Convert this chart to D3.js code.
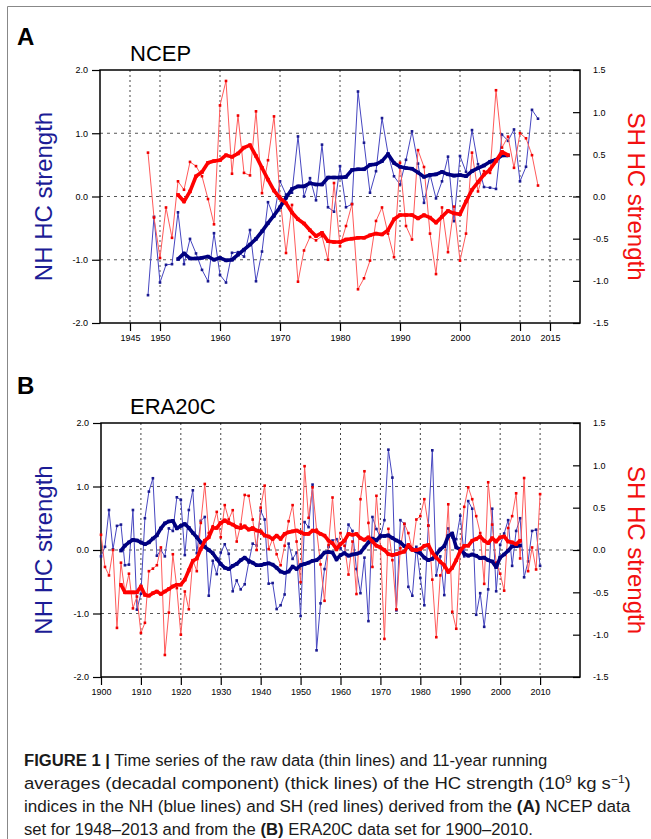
<!DOCTYPE html>
<html>
<head>
<meta charset="utf-8">
<script src="https://cdn.jsdelivr.net/npm/d3@7"></script>
<style>
  body { margin: 0; background: #fff; }
  svg { display: block; }
  text { font-family: "Liberation Sans", Arial, sans-serif; }
</style>
</head>
<body>
<div id="chart"></div>
<script>
// ---- data ----
// NCEP, 1948-2013 raw, 1953-2008 11-yr running mean
const ncepStart = 1948;
const ncepNH = [-1.56, -0.32, -1.36, -1.08, -1.07, -0.25, -1.07, -0.67, -0.9, -1.16,
  -1.34, -0.58, -1.24, -1.36, -0.89, -0.88, -0.95, -0.53, -1.34, -0.87,
  -0.09, -0.32, 0.24, 0.03, 0.06, 0.95, 0.0, 0.29, -0.06, 0.82,
  -0.17, -0.24, 0.48, -0.17, -0.12, 1.66, 0.85, 0.06, 0.4, 1.24,
  0.68, 0.32, 0.19, 0.58, 1.03, 0.52, -0.1, 0.35, -0.03, 0.24,
  0.63, -0.39, 0.64, 0.39, 1.05, 0.51, 0.15, 0.14, 0.12, 0.98,
  0.88, 1.06, 0.24, 0.47, 1.37, 1.23];
const ncepSH = [0.52, -0.25, -0.73, -0.13, -0.49, 0.18, 0.08, 0.41, 0.36, 0.24,
  -0.03, -0.33, 1.08, 1.37, 0.27, 0.96, 0.28, 0.25, 1.01, 0.04,
  0.43, 0.95, 0.0, -0.67, -0.1, -1.01, -0.64, -0.48, -0.52, -0.47,
  -0.75, 0.16, -0.59, -0.35, -0.09, -1.1, -0.97, -0.76, -0.29, -0.13,
  -0.44, -0.72, 0.4, -0.35, -0.51, 0.55, 0.35, -0.44, -0.92, -0.13,
  -0.66, -0.12, -0.76, -0.44, 0.52, 0.06, 0.3, 0.28, 1.26, 0.58,
  0.71, 0.34, 0.75, 0.69, 0.49, 0.13];
const ncepSmoothStart = 1953;
const ncepNHSmooth = [-0.99, -0.9, -0.98, -0.98, -0.97, -0.95, -1.0, -0.97, -1.01, -1.0,
  -0.92, -0.84, -0.76, -0.67, -0.55, -0.42, -0.3, -0.17, -0.02, 0.12,
  0.16, 0.16, 0.21, 0.19, 0.19, 0.3, 0.3, 0.3, 0.31, 0.42,
  0.43, 0.43, 0.5, 0.51, 0.56, 0.67, 0.53, 0.47, 0.45, 0.44,
  0.38, 0.31, 0.34, 0.35, 0.39, 0.35, 0.33, 0.34, 0.32, 0.4,
  0.45, 0.49, 0.55, 0.58, 0.65, 0.65];
const ncepSHSmooth = [0.02, -0.06, 0.06, 0.24, 0.29, 0.4, 0.42, 0.43, 0.49, 0.47,
  0.51, 0.58, 0.61, 0.48, 0.34, 0.2, 0.07, -0.02, -0.08, -0.19,
  -0.27, -0.32, -0.4, -0.47, -0.43, -0.53, -0.54, -0.54, -0.51, -0.5,
  -0.49, -0.49, -0.46, -0.44, -0.45, -0.4, -0.27, -0.22, -0.22, -0.22,
  -0.26, -0.22, -0.25, -0.31, -0.24, -0.17, -0.2, -0.21, -0.06, 0.08,
  0.17, 0.26, 0.32, 0.42, 0.53, 0.49];

// ERA20C, 1900-2010 raw, 1905-2005 11-yr running mean
const eraStart = 1900;
const eraNH = [-0.1, 0.05, 0.63, 0.01, 0.38, 0.4, -0.24, -0.23, 0.63, -0.94,
  -0.69, 0.5, 0.92, 1.13, -0.09, 0.0, -0.1, 0.34, 0.3, 0.83,
  0.79, -0.08, 0.63, 0.94, -0.05, 0.46, 0.52, -0.72, -0.17, -0.38,
  -0.04, 0.09, -0.06, -0.65, -0.48, -0.62, -0.54, -0.2, 0.1, 0.07,
  0.62, 0.48, -0.53, -0.52, -0.93, -0.87, -0.7, 0.1, -0.14, -0.04,
  -1.04, 0.44, 0.36, 1.03, -1.58, -0.84, -0.3, 0.05, 0.15, 0.17,
  0.03, -0.06, 0.4, 0.3, -0.3, -0.68, -0.12, -1.12, 0.52, 0.33,
  0.2, 0.47, 1.58, 1.14, -0.95, 0.47, 0.41, -0.58, -0.72, 0.05,
  -0.44, -0.87, 0.38, 1.57, -0.4, -0.1, -0.71, 0.34, 0.2, 0.17,
  0.54, -0.1, 0.77, 0.65, -1.02, -0.68, -1.21, -0.62, 0.65, -0.65,
  0.08, 0.26, 0.47, -0.25, 0.3, 0.5, -0.43, -0.18, 0.3, 0.32,
  -0.25];
const eraSH = [0.18, -0.2, -0.3, 0.0, -0.92, -0.15, -0.5, -0.28, -0.69, -0.55,
  -0.98, -0.86, -0.25, -0.22, -0.18, 0.03, -1.24, -0.74, -0.05, -0.45,
  -1.0, -0.49, -0.7, -0.12, -0.25, 0.32, 0.78, 0.2, 0.28, 0.45,
  0.15, 0.53, 0.36, 0.47, 0.1, 0.3, 0.65, 0.64, 0.36, 0.0,
  0.5, 0.76, 0.01, 0.13, -0.05, -0.18, 0.05, 0.34, 0.53, 0.1,
  -0.38, 0.99, 0.38, 0.74, 0.24, -0.17, -0.6, 0.06, 0.62, 0.0,
  0.2, 0.05, -0.29, 0.1, -0.52, 0.6, 0.93, 0.32, -0.2, 0.64,
  0.04, -1.05, 0.25, -0.12, -0.7, 0.02, 0.31, 0.2, 0.0, 0.36,
  0.4, 0.6, 0.29, -0.35, -1.03, -0.3, -0.2, 0.54, -0.73, -0.93,
  0.0, 0.51, 0.74, 0.6, 0.4, 0.2, -0.4, 0.8, 0.3, -0.15,
  -0.28, -0.48, 0.26, 0.4, 0.67, -0.1, 0.85, -0.25, 0.03, -0.23,
  0.66];
const eraSmoothStart = 1905;
const eraNHSmooth = [-0.01, 0.07, 0.12, 0.16, 0.15, 0.12, 0.09, 0.12, 0.18, 0.23,
  0.34, 0.42, 0.45, 0.46, 0.34, 0.38, 0.41, 0.35, 0.27, 0.2,
  0.12, 0.05, 0.0, -0.05, -0.14, -0.22, -0.28, -0.3, -0.25, -0.22,
  -0.16, -0.12, -0.17, -0.2, -0.24, -0.24, -0.22, -0.21, -0.23, -0.28,
  -0.34, -0.36, -0.34, -0.26, -0.3, -0.24, -0.22, -0.2, -0.17, -0.16,
  -0.11, -0.04, -0.03, -0.04, -0.15, -0.08, -0.05, -0.09, -0.07, -0.06,
  -0.04, 0.04, 0.12, 0.18, 0.15, 0.22, 0.22, 0.23, 0.19, 0.15,
  0.12, 0.06, 0.05, 0.01, -0.02, -0.05, -0.12, -0.16, -0.14, -0.07,
  0.01, 0.06, 0.22, 0.26, 0.04, 0.01, -0.06, -0.09, -0.07, -0.09,
  -0.13, -0.12, -0.16, -0.18, -0.27, -0.12, -0.07, -0.01, 0.06, 0.06,
  0.07];
const eraSHSmooth = [-0.41, -0.5, -0.5, -0.5, -0.5, -0.43, -0.53, -0.54, -0.51, -0.49,
  -0.52, -0.49, -0.46, -0.43, -0.41, -0.41, -0.35, -0.24, -0.13, -0.1,
  0.01, 0.11, 0.15, 0.26, 0.26, 0.32, 0.35, 0.32, 0.3, 0.27,
  0.26, 0.28, 0.24, 0.26, 0.23, 0.22, 0.17, 0.16, 0.13, 0.17,
  0.13, 0.19, 0.21, 0.22, 0.23, 0.21, 0.19, 0.19, 0.23, 0.22,
  0.19, 0.17, 0.11, 0.08, 0.01, 0.07, 0.11, 0.19, 0.18, 0.19,
  0.14, 0.12, 0.15, 0.1, 0.05, 0.03, 0.0, -0.05, -0.06, -0.05,
  -0.03, -0.02, 0.06, 0.0, 0.0, 0.01, 0.05, 0.06, -0.03, -0.09,
  -0.14, -0.18, -0.26, -0.21, -0.12, -0.01, 0.05, 0.05, 0.11, 0.13,
  0.16, 0.11, 0.08, 0.14, 0.1, 0.15, 0.16, 0.1, 0.09, 0.07,
  0.11];

// axis ticks
const leftTicks = [2, 1, 0, -1, -2];
const rightTicks = [1.5, 1, 0.5, 0, -0.5, -1, -1.5];
const gridY = [1, 0, -1];
const ncepYearTicks = [1945, 1950, 1960, 1970, 1980, 1990, 2000, 2010, 2015];
const eraYearTicks = [1900, 1910, 1920, 1930, 1940, 1950, 1960, 1970, 1980, 1990, 2000, 2010];

const W = 651, H = 839;
const svg = d3.select("#chart").append("svg")
    .attr("width", W)
    .attr("height", H);

// figure frame
svg.append("path")
    .attr("d", "M7.5," + H + "V6.5H" + W)
    .attr("fill", "none")
    .attr("stroke", "#888")
    .attr("stroke-width", 1);

const toSeries = (arr, start) => arr.map((v, i) => ({ year: start + i, v: v }));

function drawPanel(cfg) {
    const g = svg.append("g");
    const x = d3.scaleLinear().domain(cfg.xDomain).range([cfg.left, cfg.right]);
    const yL = d3.scaleLinear().domain([-2, 2]).range([cfg.bottom, cfg.top]);
    const yR = d3.scaleLinear().domain([-1.5, 1.5]).range([cfg.bottom, cfg.top]);

    // gridlines
    g.selectAll(".vgrid")
        .data(cfg.xTicks.filter(t => t > cfg.xDomain[0] && t < cfg.xDomain[1]))
        .enter().append("line")
        .attr("x1", d => x(d)).attr("x2", d => x(d))
        .attr("y1", cfg.top).attr("y2", cfg.bottom)
        .attr("stroke", "#444").attr("stroke-width", 1)
        .attr("stroke-dasharray", "2,3");
    g.selectAll(".hgrid")
        .data(gridY)
        .enter().append("line")
        .attr("x1", cfg.left).attr("x2", cfg.right)
        .attr("y1", d => yL(d)).attr("y2", d => yL(d))
        .attr("stroke", "#555").attr("stroke-width", 1)
        .attr("stroke-dasharray", "3,4");

    // axes
    const xAxis = d3.axisBottom(x).tickValues(cfg.xTicks).tickSize(8).tickPadding(4)
        .tickFormat(d3.format("d"));
    const leftAxis = d3.axisLeft(yL).tickValues(leftTicks).tickSize(8).tickPadding(4)
        .tickFormat(d => d.toFixed(1));
    const rightAxis = d3.axisRight(yR).tickValues(rightTicks).tickSize(-7).tickPadding(13)
        .tickFormat(d => d.toFixed(1));

    [
        g.append("g").attr("transform", "translate(0," + cfg.bottom + ")").call(xAxis),
        g.append("g").attr("transform", "translate(" + cfg.left + ",0)").call(leftAxis),
        g.append("g").attr("transform", "translate(" + cfg.right + ",0)").call(rightAxis)
    ].forEach(a => {
        a.select(".domain").remove();
        a.selectAll("line").attr("stroke", "#000").attr("stroke-width", 1.2);
        a.selectAll("text").attr("font-size", 9).attr("fill", "#000");
    });

    // box
    g.append("rect")
        .attr("x", cfg.left).attr("y", cfg.top)
        .attr("width", cfg.right - cfg.left).attr("height", cfg.bottom - cfg.top)
        .attr("fill", "none").attr("stroke", "#000").attr("stroke-width", 1.5);

    const lineL = d3.line().x(d => x(d.year)).y(d => yL(d.v));
    const lineR = d3.line().x(d => x(d.year)).y(d => yR(d.v));

    function series(data, line, yScale, color, markColor, width, ms) {
        g.append("path").datum(data)
            .attr("d", line)
            .attr("fill", "none")
            .attr("stroke", color)
            .attr("stroke-width", width)
            .attr("stroke-linejoin", "round");
        g.append("g").selectAll("rect")
            .data(data)
            .enter().append("rect")
            .attr("x", d => x(d.year) - ms / 2)
            .attr("y", d => yScale(d.v) - ms / 2)
            .attr("width", ms).attr("height", ms)
            .attr("fill", markColor);
    }

    series(cfg.nh, lineL, yL, "#4646c0", "#1a1a90", 1, 2.6);
    series(cfg.sh, lineR, yR, "#ff5a5a", "#f00000", 1, 2.6);
    series(cfg.nhSmooth, lineL, yL, "#000080", "#000080", 3.6, 3.5);
    series(cfg.shSmooth, lineR, yR, "#ff0000", "#ff0000", 3.6, 3.5);

    // labels
    svg.append("text")
        .attr("x", 17).attr("y", cfg.letterY)
        .attr("font-size", 24).attr("font-weight", "bold")
        .text(cfg.letter);
    svg.append("text")
        .attr("x", 130).attr("y", cfg.titleY)
        .attr("font-size", 22)
        .text(cfg.title);

    const midY = (cfg.top + cfg.bottom) / 2;
    svg.append("text")
        .attr("transform", "translate(52," + midY + ") rotate(-90)")
        .attr("text-anchor", "middle")
        .attr("font-size", 24)
        .attr("fill", "#1c1c96")
        .text("NH HC strength");
    svg.append("text")
        .attr("transform", "translate(628," + midY + ") rotate(90)")
        .attr("text-anchor", "middle")
        .attr("font-size", 24)
        .attr("fill", "#f21010")
        .text("SH HC strength");
}

drawPanel({
    letter: "A", letterY: 45, title: "NCEP", titleY: 61,
    left: 100, right: 580, top: 70, bottom: 323,
    xDomain: [1940, 2020], xTicks: ncepYearTicks,
    nh: toSeries(ncepNH, ncepStart), sh: toSeries(ncepSH, ncepStart),
    nhSmooth: toSeries(ncepNHSmooth, ncepSmoothStart),
    shSmooth: toSeries(ncepSHSmooth, ncepSmoothStart)
});

drawPanel({
    letter: "B", letterY: 394, title: "ERA20C", titleY: 414,
    left: 101, right: 580, top: 423, bottom: 677,
    xDomain: [1900, 2020], xTicks: eraYearTicks,
    nh: toSeries(eraNH, eraStart), sh: toSeries(eraSH, eraStart),
    nhSmooth: toSeries(eraNHSmooth, eraSmoothStart),
    shSmooth: toSeries(eraSHSmooth, eraSmoothStart)
});

// caption: a condensed look by squeezing each line horizontally to its width in the figure
const capFont = "'Roboto', 'Liberation Sans', sans-serif";
const caption = svg.append("g").attr("fill", "#1a1a1a").style("font-family", capFont);
const capLines = [
    { y: 766, right: 548, parts: [["FIGURE 1 |", true], [" Time series of the raw data (thin lines) and 11-year running", false]] },
    { y: 789, right: 631, parts: [["averages (decadal component) (thick lines) of the HC strength (10", false], ["9", false, "sup"], [" kg s", false], ["\u22121", false, "sup"], [")", false]] },
    { y: 812, right: 631, parts: [["indices in the NH (blue lines) and SH (red lines) derived from the ", false], ["(A)", true], [" NCEP data", false]] },
    { y: 835, right: null, parts: [["set for 1948\u20132013 and from the ", false], ["(B)", true], [" ERA20C data set for 1900\u20132010.", false]] }
];
const capLeft = 24, capSize = 17;

let firstScale = 1;
capLines.forEach((l, i) => {
    const t = caption.append("text").attr("x", 0).attr("y", 0).attr("font-size", capSize);
    l.parts.forEach(p => {
        const s = t.append("tspan").text(p[0]).datum(p[2] || "");
        if (p[1]) s.attr("font-weight", "bold");
        if (p[2] === "sup") s.attr("dy", -6.5).attr("font-size", 11);
    });
    t.selectAll("tspan").each(function (d, j, nodes) {
        if (d === "sup" && nodes[j + 1]) d3.select(nodes[j + 1]).attr("dy", 6.5);
    });
    const natural = t.node().getComputedTextLength();
    const sx = l.right ? (l.right - capLeft) / natural : firstScale;
    if (i === 0) firstScale = sx;
    t.attr("transform", "translate(" + capLeft + "," + l.y + ") scale(" + sx + ",1)");
});
</script>
</body>
</html>
